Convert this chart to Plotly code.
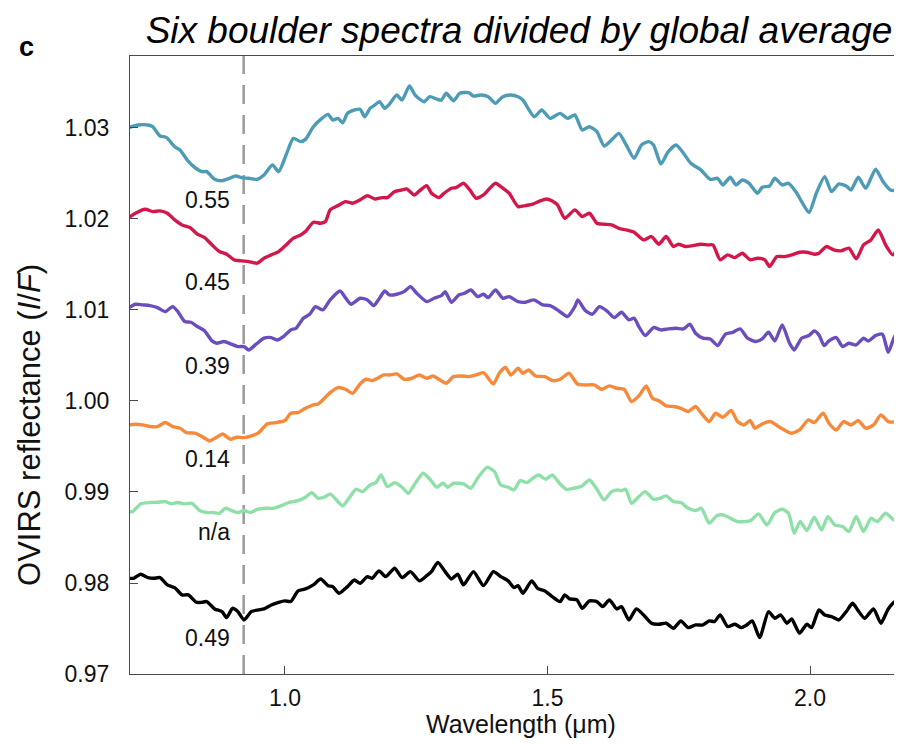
import plotly.graph_objects as go

# ---------------- data ----------------
wl_055 = [0.701,0.720,0.739,0.748,0.762,0.774,0.790,0.800,0.814,0.828,0.842,0.851,0.866,0.880,0.894,0.906,0.917,0.931,0.947,0.960,
          0.976,0.988,1.002,1.016,1.030,1.039,1.054,1.068,1.082,1.091,1.101,1.110,1.119,1.133,1.143,1.152,1.162,1.171,1.180,1.190,
          1.199,1.213,1.223,1.237,1.248,1.265,1.276,1.289,1.298,1.307,1.321,1.333,1.350,1.359,1.373,1.387,1.401,1.415,1.430,1.444,
          1.453,1.475,1.489,1.505,1.524,1.538,1.552,1.566,1.580,1.594,1.608,1.622,1.636,1.650,1.665,1.679,1.693,1.702,1.716,1.730,
          1.745,1.759,1.773,1.792,1.810,1.824,1.834,1.848,1.859,1.871,1.884,1.900,1.909,1.923,1.933,1.947,1.959,1.975,1.984,1.998,
          2.012,2.028,2.041,2.055,2.069,2.078,2.092,2.106,2.125,2.139,2.153,2.168,2.175]
r_055 = [1.03003,1.03033,1.03033,1.03014,1.02912,1.02897,1.02794,1.02758,1.02648,1.02567,1.02520,1.02520,1.02436,1.02421,1.02447,1.02472,1.02454,1.02447,1.02436,1.02484,
         1.02594,1.02520,1.02703,1.02886,1.02850,1.02875,1.03014,1.03095,1.03150,1.03088,1.03106,1.03058,1.03161,1.03198,1.03205,1.03124,1.03216,1.03252,1.03289,1.03216,
         1.03263,1.03362,1.03307,1.03461,1.03362,1.03289,1.03344,1.03318,1.03307,1.03381,1.03300,1.03381,1.03388,1.03351,1.03362,1.03344,1.03271,1.03344,1.03362,1.03344,
         1.03307,1.03124,1.03198,1.03106,1.03161,1.03106,1.03143,1.02978,1.03014,1.02960,1.02802,1.02868,1.02941,1.02813,1.02667,1.02813,1.02850,1.02813,1.02605,1.02740,
         1.02813,1.02722,1.02612,1.02539,1.02436,1.02447,1.02374,1.02458,1.02374,1.02429,1.02392,1.02283,1.02348,1.02363,1.02447,1.02374,1.02392,1.02283,1.02191,1.02070,
         1.02283,1.02466,1.02301,1.02385,1.02363,1.02319,1.02458,1.02337,1.02546,1.02411,1.02319,1.02319,1.02429]

wl_045 = [0.701,0.715,0.734,0.748,0.762,0.776,0.790,0.804,0.819,0.833,0.847,0.861,0.875,0.889,0.903,0.917,0.931,0.947,0.960,0.974,
          0.988,1.002,1.016,1.030,1.039,1.054,1.068,1.077,1.086,1.101,1.115,1.129,1.143,1.157,1.171,1.185,1.195,1.209,1.223,1.232,
          1.246,1.256,1.270,1.279,1.293,1.303,1.317,1.326,1.340,1.352,1.364,1.378,1.387,1.401,1.415,1.427,1.444,1.458,1.472,1.486,
          1.498,1.509,1.519,1.533,1.552,1.566,1.580,1.594,1.608,1.622,1.636,1.650,1.665,1.683,1.698,1.712,1.726,1.740,1.749,1.763,
          1.777,1.792,1.806,1.815,1.829,1.843,1.857,1.871,1.886,1.900,1.914,1.923,1.937,1.951,1.965,1.980,1.994,2.008,2.017,2.031,
          2.045,2.059,2.074,2.088,2.102,2.116,2.130,2.144,2.158,2.175]
r_045 = [1.02008,1.02063,1.02107,1.02081,1.02089,1.02063,1.01990,1.01935,1.01906,1.01833,1.01796,1.01715,1.01642,1.01613,1.01551,1.01540,1.01532,1.01514,1.01569,1.01606,
         1.01642,1.01715,1.01789,1.01825,1.01862,1.01964,1.01953,1.01972,1.02100,1.02147,1.02191,1.02173,1.02210,1.02257,1.02220,1.02235,1.02235,1.02301,1.02319,1.02330,
         1.02264,1.02308,1.02367,1.02283,1.02235,1.02283,1.02338,1.02345,1.02393,1.02319,1.02228,1.02264,1.02319,1.02393,1.02338,1.02283,1.02136,1.02147,1.02162,1.02199,
         1.02220,1.02199,1.02155,1.02008,1.02100,1.02027,1.02063,1.01953,1.01942,1.01935,1.01898,1.01880,1.01854,1.01770,1.01807,1.01723,1.01807,1.01697,1.01723,1.01697,
         1.01708,1.01723,1.01715,1.01715,1.01551,1.01606,1.01576,1.01624,1.01551,1.01569,1.01551,1.01478,1.01587,1.01587,1.01606,1.01635,1.01635,1.01613,1.01624,1.01697,
         1.01661,1.01650,1.01679,1.01562,1.01715,1.01770,1.01880,1.01715,1.01606,1.01844]

wl_039 = [0.701,0.715,0.729,0.743,0.757,0.772,0.786,0.795,0.809,0.821,0.833,0.847,0.861,0.870,0.884,0.898,0.910,0.922,0.931,0.945,
          0.960,0.974,0.985,0.997,1.011,1.021,1.035,1.047,1.058,1.072,1.086,1.105,1.115,1.126,1.143,1.157,1.169,1.180,1.190,1.199,
          1.213,1.227,1.239,1.251,1.270,1.284,1.298,1.305,1.317,1.331,1.342,1.354,1.367,1.378,1.387,1.401,1.415,1.427,1.444,1.458,
          1.474,1.491,1.505,1.519,1.538,1.552,1.558,1.571,1.585,1.599,1.613,1.627,1.641,1.655,1.665,1.674,1.686,1.702,1.716,1.730,
          1.745,1.759,1.771,1.782,1.796,1.810,1.824,1.839,1.853,1.867,1.881,1.897,1.909,1.921,1.933,1.947,1.961,1.970,1.984,1.998,
          2.008,2.017,2.027,2.036,2.050,2.062,2.074,2.088,2.102,2.111,2.125,2.138,2.149,2.163,2.175]
r_039 = [1.01019,1.01063,1.01056,1.01048,1.01026,1.00982,1.01037,1.00990,1.00873,1.00865,1.00818,1.00770,1.00660,1.00635,1.00653,1.00624,1.00598,1.00598,1.00561,1.00624,
         1.00690,1.00697,1.00671,1.00708,1.00781,1.00799,1.00909,1.00953,1.01037,1.01001,1.01111,1.01209,1.01136,1.01063,1.01129,1.01111,1.01048,1.01129,1.01209,1.01165,
         1.01173,1.01202,1.01257,1.01184,1.01092,1.01129,1.01158,1.01202,1.01085,1.01165,1.01184,1.01220,1.01147,1.01173,1.01136,1.01220,1.01129,1.01147,1.01092,1.01085,
         1.01111,1.01056,1.01048,1.01001,1.00928,1.01037,1.01111,1.01001,1.00953,1.01037,1.00990,1.00917,1.00975,1.00891,1.00909,1.00818,1.00719,1.00807,1.00781,1.00792,
         1.00799,1.00792,1.00843,1.00745,1.00690,1.00682,1.00609,1.00734,1.00755,1.00792,1.00690,1.00653,1.00682,1.00755,1.00660,1.00836,1.00635,1.00561,1.00690,1.00719,
         1.00770,1.00726,1.00609,1.00660,1.00697,1.00598,1.00635,1.00616,1.00690,1.00660,1.00719,1.00734,1.00536,1.00726,1.00708]

wl_014 = [0.701,0.715,0.729,0.743,0.757,0.772,0.786,0.800,0.812,0.828,0.842,0.856,0.870,0.881,0.896,0.908,0.922,0.936,0.950,0.966,
          0.983,1.000,1.011,1.025,1.039,1.054,1.063,1.077,1.086,1.101,1.115,1.129,1.143,1.154,1.166,1.176,1.188,1.199,1.213,1.227,
          1.242,1.256,1.270,1.282,1.293,1.307,1.321,1.336,1.350,1.364,1.378,1.397,1.408,1.420,1.430,1.444,1.453,1.464,1.477,1.495,
          1.510,1.524,1.541,1.557,1.571,1.589,1.603,1.618,1.632,1.646,1.660,1.674,1.688,1.700,1.712,1.726,1.740,1.754,1.768,1.782,
          1.793,1.808,1.820,1.834,1.850,1.862,1.874,1.886,1.895,1.909,1.925,1.940,1.951,1.965,1.980,1.997,2.008,2.025,2.036,2.050,
          2.064,2.078,2.092,2.106,2.121,2.135,2.149,2.163,2.175]
r_014 = [0.99737,0.99745,0.99737,0.99719,0.99719,0.99763,0.99719,0.99701,0.99653,0.99646,0.99609,0.99562,0.99602,0.99638,0.99580,0.99602,0.99598,0.99616,0.99653,0.99748,
         0.99763,0.99785,0.99865,0.99873,0.99920,0.99957,0.99968,1.00041,1.00092,1.00147,1.00129,1.00085,1.00187,1.00239,1.00224,1.00250,1.00286,1.00286,1.00297,1.00239,
         1.00250,1.00286,1.00250,1.00275,1.00239,1.00195,1.00268,1.00275,1.00268,1.00286,1.00312,1.00187,1.00305,1.00370,1.00286,1.00360,1.00305,1.00341,1.00275,1.00268,
         1.00224,1.00239,1.00305,1.00187,1.00176,1.00176,1.00129,1.00166,1.00140,1.00129,0.99994,1.00056,1.00166,1.00030,1.00004,0.99946,0.99939,0.99920,0.99884,0.99939,
         0.99865,0.99774,0.99865,0.99821,0.99895,0.99774,0.99737,0.99785,0.99701,0.99748,0.99774,0.99719,0.99682,0.99646,0.99682,0.99792,0.99763,0.99865,0.99756,0.99682,
         0.99774,0.99737,0.99785,0.99701,0.99737,0.99847,0.99774,0.99774,0.99810]

wl_na = [0.701,0.710,0.725,0.743,0.757,0.772,0.784,0.795,0.809,0.823,0.837,0.851,0.863,0.875,0.887,0.898,0.910,0.922,0.934,0.947,
         0.962,0.978,0.992,1.007,1.025,1.039,1.051,1.063,1.077,1.086,1.101,1.110,1.124,1.135,1.148,1.162,1.173,1.183,1.195,1.209,
         1.223,1.235,1.246,1.263,1.276,1.289,1.301,1.310,1.321,1.340,1.354,1.368,1.385,1.399,1.411,1.425,1.436,1.448,1.461,1.472,
         1.483,1.497,1.509,1.524,1.536,1.550,1.566,1.580,1.594,1.608,1.622,1.634,1.641,1.649,1.660,1.674,1.686,1.702,1.714,1.726,
         1.740,1.754,1.768,1.782,1.793,1.808,1.822,1.834,1.848,1.862,1.876,1.887,1.902,1.918,1.933,1.947,1.959,1.970,1.981,1.994,
         2.008,2.022,2.034,2.047,2.062,2.074,2.088,2.102,2.116,2.128,2.144,2.160,2.175]
r_na = [0.98785,0.98785,0.98869,0.98884,0.98887,0.98894,0.98869,0.98884,0.98869,0.98876,0.98796,0.98774,0.98774,0.98766,0.98821,0.98796,0.98774,0.98796,0.98774,0.98810,
        0.98821,0.98821,0.98847,0.98884,0.98905,0.98942,0.98993,0.98931,0.98949,0.98979,0.98894,0.98847,0.98949,0.99030,0.99004,0.99077,0.99103,0.99187,0.99059,0.99103,
        0.99052,0.98986,0.99077,0.99206,0.99140,0.99052,0.99096,0.99052,0.99096,0.99088,0.99041,0.99162,0.99271,0.99224,0.99077,0.99052,0.99023,0.99125,0.99103,0.99151,
        0.99187,0.99140,0.99187,0.99088,0.99030,0.99041,0.99067,0.99132,0.99030,0.98913,0.99004,0.99023,0.99015,0.99030,0.98876,0.98949,0.99004,0.98920,0.98931,0.98957,
        0.98894,0.98884,0.98821,0.98796,0.98821,0.98657,0.98737,0.98748,0.98712,0.98675,0.98675,0.98686,0.98759,0.98638,0.98774,0.98810,0.98766,0.98547,0.98675,0.98576,
        0.98722,0.98583,0.98730,0.98638,0.98620,0.98565,0.98730,0.98565,0.98711,0.98675,0.98766,0.98693,0.98686]

wl_049 = [0.701,0.712,0.725,0.739,0.750,0.762,0.776,0.790,0.804,0.816,0.831,0.842,0.851,0.866,0.880,0.889,0.900,0.910,0.922,0.936,
          0.950,0.960,0.974,0.988,1.000,1.011,1.025,1.039,1.054,1.068,1.082,1.091,1.103,1.119,1.132,1.143,1.157,1.166,1.179,1.192,
          1.209,1.223,1.239,1.256,1.270,1.279,1.291,1.305,1.317,1.329,1.340,1.359,1.378,1.397,1.411,1.425,1.436,1.444,1.453,1.470,
          1.481,1.495,1.509,1.524,1.533,1.542,1.556,1.566,1.580,1.594,1.605,1.618,1.632,1.641,1.655,1.669,1.683,1.698,1.712,1.726,
          1.740,1.754,1.768,1.782,1.796,1.808,1.818,1.829,1.843,1.857,1.869,1.878,1.890,1.904,1.921,1.933,1.944,1.956,1.965,1.980,
          1.994,2.003,2.017,2.028,2.041,2.055,2.069,2.081,2.092,2.104,2.121,2.135,2.149,2.163,2.175]
r_049 = [0.98052,0.98052,0.98096,0.98059,0.98052,0.98059,0.97979,0.97949,0.97869,0.97869,0.97788,0.97788,0.97796,0.97715,0.97686,0.97620,0.97722,0.97686,0.97594,0.97686,
         0.97704,0.97715,0.97759,0.97788,0.97803,0.97796,0.97913,0.97935,0.97979,0.98044,0.97971,0.97960,0.97887,0.97960,0.98033,0.97997,0.98070,0.98052,0.98132,0.98070,
         0.98162,0.98059,0.98125,0.98023,0.98081,0.98125,0.98227,0.98125,0.98044,0.98096,0.97979,0.98125,0.97971,0.98125,0.98070,0.98023,0.97949,0.97971,0.97887,0.98023,
         0.97942,0.97913,0.97851,0.97796,0.97869,0.97825,0.97814,0.97722,0.97803,0.97796,0.97741,0.97814,0.97715,0.97741,0.97594,0.97715,0.97649,0.97558,0.97547,0.97558,
         0.97503,0.97583,0.97510,0.97539,0.97539,0.97583,0.97576,0.97649,0.97521,0.97547,0.97510,0.97532,0.97583,0.97400,0.97686,0.97613,0.97649,0.97558,0.97605,0.97448,
         0.97547,0.97510,0.97704,0.97649,0.97631,0.97594,0.97686,0.97777,0.97693,0.97613,0.97715,0.97558,0.97715,0.97796,0.97759]

series = [
    ("0.55", wl_055, r_055, "#4e9bb5"),
    ("0.45", wl_045, r_045, "#d4174b"),
    ("0.39", wl_039, r_039, "#6b4dbd"),
    ("0.14", wl_014, r_014, "#f7893a"),
    ("n/a",  wl_na,  r_na,  "#8fe0a8"),
    ("0.49", wl_049, r_049, "#000000"),
]
label_texts = ["0.55", "0.45", "0.39", "0.14", "n/a", "0.49"]
label_y = [1.0221, 1.01308, 1.00385, 0.99363, 0.98560, 0.97396]
band_center = 0.9213

y_ticks = [0.97, 0.98, 0.99, 1.00, 1.01, 1.02, 1.03]
y_ticklabels = ["0.97", "0.98", "0.99", "1.00", "1.01", "1.02", "1.03"]
x_ticks = [1.0, 1.5, 2.0]
x_ticklabels = ["1.0", "1.5", "2.0"]

FONT = "Liberation Sans, Arial, Helvetica, sans-serif"
AXC = "#4a4a4a"

fig = go.Figure()
for name, wl, r, col in series:
    fig.add_trace(go.Scatter(x=wl, y=r, mode="lines", name=name,
                             line=dict(color=col, width=3.4, shape="spline", smoothing=0.6),
                             showlegend=False, hoverinfo="skip"))

fig.add_shape(type="line", xref="x", yref="paper", x0=band_center, x1=band_center, y0=0, y1=1,
              line=dict(color="#9a9a9a", width=2.5, dash="19px,11px"), layer="below")

for t, yv in zip(label_texts, label_y):
    fig.add_annotation(x=0.899, y=yv, xref="x", yref="y", text=t, showarrow=False,
                       xanchor="right", yanchor="middle", font=dict(size=23, color="#111", family=FONT))

fig.add_annotation(x=-0.1347, y=1.0146, xref="paper", yref="paper", text="<b>c</b>", showarrow=False,
                   xanchor="center", yanchor="middle", font=dict(size=27, color="#000", family=FONT))
fig.add_annotation(x=-0.1295, y=0.403, xref="paper", yref="paper", text="OVIRS reflectance (<i>I</i>/<i>F</i>)",
                   showarrow=False, textangle=-90, xanchor="center", yanchor="middle",
                   font=dict(size=31, color="#111", family=FONT))
fig.add_annotation(x=0.5065, y=-0.0809, xref="paper", yref="paper", text="Wavelength (μm)",
                   showarrow=False, xanchor="center", yanchor="middle",
                   font=dict(size=25, color="#111", family=FONT))

fig.update_layout(
    width=894, height=736,
    margin=dict(l=122, r=0, t=48, b=70, autoexpand=False),
    paper_bgcolor="white", plot_bgcolor="white",
    font=dict(family=FONT, color="#111"),
    title=dict(text="<i>Six boulder spectra divided by global average</i>", xref="container", yref="container",
               x=0.5716, y=0.9701, xanchor="center", yanchor="middle", automargin=False,
               font=dict(size=37, color="#000", family=FONT)),
    xaxis=dict(range=[0.7048, 2.1752], tickvals=x_ticks, ticktext=x_ticklabels, ticks="inside", ticklen=8,
               tickwidth=1.3, tickcolor=AXC, showline=True, linecolor=AXC, linewidth=1.3, mirror=True,
               showgrid=False, zeroline=False, tickfont=dict(size=23, family=FONT, color="#111"),
               ticklabelstandoff=3, automargin=False),
    yaxis=dict(range=[0.97, 1.03791], tickvals=y_ticks, ticktext=y_ticklabels, ticks="inside", ticklen=8,
               tickwidth=1.3, tickcolor=AXC, showline=True, linecolor=AXC, linewidth=1.3, mirror=False,
               showgrid=False, zeroline=False, tickfont=dict(size=23, family=FONT, color="#111"),
               ticklabelstandoff=15, automargin=False),
)

fig.write_html("out.html")
